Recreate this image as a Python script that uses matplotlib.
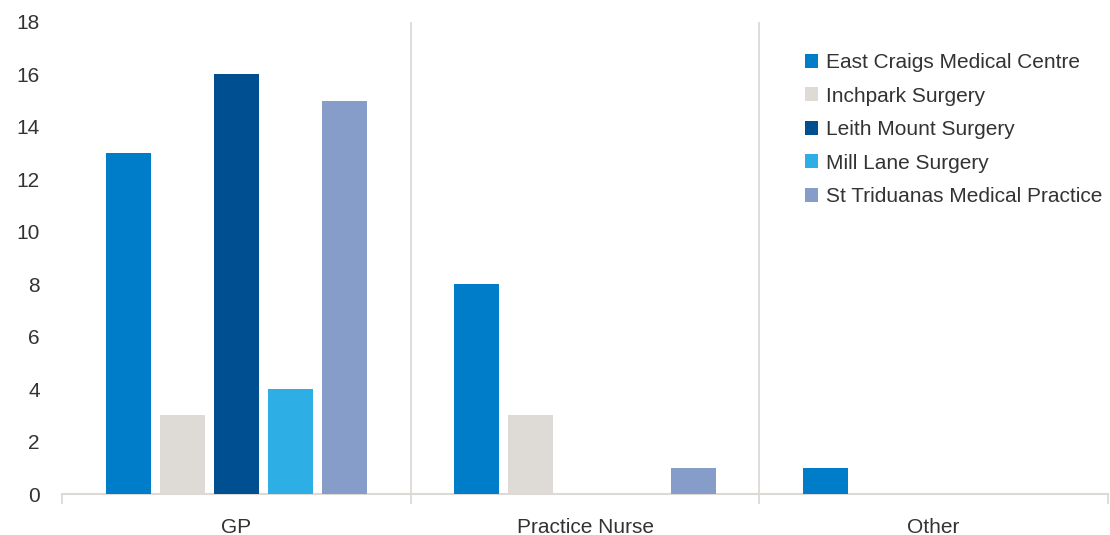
import matplotlib.pyplot as plt
import numpy as np

plt.rcParams['font.family'] = ['Liberation Sans', 'DejaVu Sans']

categories = ["GP", "Practice Nurse", "Other"]
practices = ["East Craigs Medical Centre", "Inchpark Surgery", "Leith Mount Surgery",
             "Mill Lane Surgery", "St Triduanas Medical Practice"]
east_craigs = [13, 8, 1]
inchpark = [3, 3, 0]
leith_mount = [16, 0, 0]
mill_lane = [4, 0, 0]
st_triduanas = [15, 1, 0]
series = [east_craigs, inchpark, leith_mount, mill_lane, st_triduanas]
colors = ["#007DC8", "#DEDAD6", "#005091", "#2DAEE5", "#859DC8"]

fig = plt.figure(figsize=(11.1, 5.35), dpi=100)
ax = fig.add_axes([0.0559, 0.0766, 0.9423, 0.8824])

x = np.arange(len(categories))
step = 0.155
w = 0.129
for k, vals in enumerate(series):
    ax.bar(x + (k - 2) * step, vals, w, color=colors[k], label=practices[k], zorder=3)

gc = "#DDDAD6"
ax.set_xlim(-0.5, 2.5)
ax.set_ylim(0, 18)
ax.set_yticks(np.arange(0, 19, 2))
for b in [0.5, 1.5]:
    ax.axvline(b, color=gc, lw=1.3, zorder=1)
for s in ["top", "right", "left"]:
    ax.spines[s].set_visible(False)
ax.spines["bottom"].set_color(gc)
ax.spines["bottom"].set_linewidth(1.5)

ax.set_xticks(x)
ax.set_xticklabels(categories)
ax.set_xticks([-0.5, 0.5, 1.5, 2.5], minor=True)
ax.tick_params(axis="x", which="major", length=0, pad=17, labelsize=15, labelcolor="#333333")
ax.tick_params(axis="x", which="minor", length=7, color=gc, width=1.3)
ax.tick_params(axis="y", length=0, pad=16, labelsize=15, labelcolor="#333333")

leg = ax.legend(loc="upper left", bbox_to_anchor=(0.692, 0.974), frameon=False,
                fontsize=15, handlelength=0.65, handleheight=0.65, handletextpad=0.4,
                labelspacing=0.7, labelcolor="#333333")

fig.savefig("out.png", dpi=100)
